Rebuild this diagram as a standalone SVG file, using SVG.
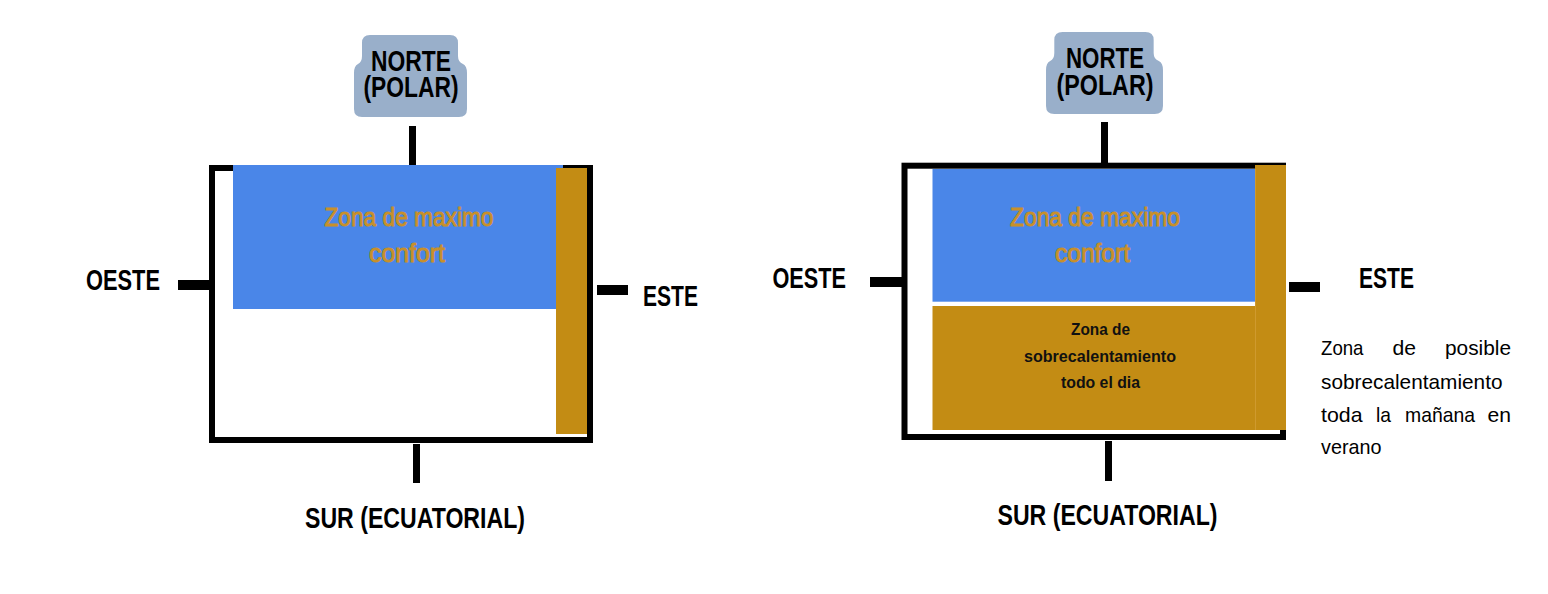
<svg xmlns="http://www.w3.org/2000/svg" width="1548" height="594" viewBox="0 0 1548 594">
<style>
.frame{fill:none;stroke:#000;stroke-width:6}
.blue{fill:#4a86e8}
.gold{fill:#c38c14}
.pol{fill:#99afca}
.tick{fill:#000}
.lbl{font-family:"Liberation Sans",Arial,sans-serif;font-weight:bold;font-size:29px;fill:#000}
.zt{font-family:"Liberation Sans",Arial,sans-serif;font-size:26px;fill:#c8902a;text-anchor:middle;stroke:#c8902a;stroke-width:1}
.zb{font-family:"Liberation Sans",Arial,sans-serif;font-weight:bold;font-size:17px;fill:#111;text-anchor:middle}
.note{font-family:"Liberation Sans",Arial,sans-serif;font-size:21px;fill:#000}
</style>
<defs>
<path id="polbox" d="M 370 35 H 450 Q 458 35 458 43 V 56 Q 458 62 463 64 Q 467 66 467 73 V 109 Q 467 117 459 117 H 362 Q 354 117 354 109 V 73 Q 354 66 358 64 Q 362 62 362 56 V 43 Q 362 35 370 35 Z"/>
</defs>
<rect width="1548" height="594" fill="#fff"/>

<!-- LEFT DIAGRAM -->
<g id="left-plan">
<rect class="frame" x="212" y="168" width="378" height="272"/>
<rect class="blue" x="233" y="165" width="330" height="144"/>
<rect class="gold" x="556" y="168" width="31" height="266"/>
<text class="zt"><tspan x="409" y="226" textLength="169" lengthAdjust="spacingAndGlyphs">Zona de maximo</tspan><tspan x="407" y="262" textLength="76" lengthAdjust="spacingAndGlyphs">confort</tspan></text>
</g>
<g id="left-norte">
<use href="#polbox" class="pol"/>
<text class="lbl" text-anchor="middle"><tspan x="411" y="71" textLength="80" lengthAdjust="spacingAndGlyphs">NORTE</tspan><tspan x="411" y="97" textLength="95" lengthAdjust="spacingAndGlyphs">(POLAR)</tspan></text>
</g>
<g id="left-oeste"><text class="lbl" x="86" y="290" textLength="74" lengthAdjust="spacingAndGlyphs">OESTE</text></g>
<g id="left-este"><text class="lbl" x="643" y="306" textLength="55" lengthAdjust="spacingAndGlyphs">ESTE</text></g>
<g id="left-sur"><text class="lbl" x="305" y="528" textLength="220" lengthAdjust="spacingAndGlyphs">SUR (ECUATORIAL)</text></g>

<!-- RIGHT DIAGRAM -->
<g id="right-plan">
<rect class="frame" x="904.5" y="165.7" width="378.5" height="271.3"/>
<rect class="blue" x="932.5" y="169" width="322.5" height="132.7"/>
<rect class="gold" x="932.5" y="306" width="322.5" height="124"/>
<rect class="gold" x="1255" y="165" width="31" height="265"/>
<line x1="1255.5" y1="169" x2="1255.5" y2="430" stroke="#cf9a2e" stroke-width="1"/>
<text class="zt"><tspan x="1095" y="226" textLength="170" lengthAdjust="spacingAndGlyphs">Zona de maximo</tspan><tspan x="1092.5" y="262" textLength="75" lengthAdjust="spacingAndGlyphs">confort</tspan></text>
<text class="zb"><tspan x="1100.5" y="335" textLength="59" lengthAdjust="spacingAndGlyphs">Zona de</tspan><tspan x="1100" y="361.5" textLength="152" lengthAdjust="spacingAndGlyphs">sobrecalentamiento</tspan><tspan x="1100.5" y="387.5" textLength="79" lengthAdjust="spacingAndGlyphs">todo el dia</tspan></text>
</g>
<g id="right-norte">
<use href="#polbox" class="pol" transform="translate(1104.5 73) scale(1.035 1) translate(-410.5 -76)"/>
<text class="lbl" text-anchor="middle"><tspan x="1105" y="68" textLength="78" lengthAdjust="spacingAndGlyphs">NORTE</tspan><tspan x="1105" y="94.5" textLength="97" lengthAdjust="spacingAndGlyphs">(POLAR)</tspan></text>
</g>
<g id="right-oeste"><text class="lbl" x="772.5" y="288" textLength="73.5" lengthAdjust="spacingAndGlyphs">OESTE</text></g>
<g id="right-este"><text class="lbl" x="1359" y="288" textLength="55" lengthAdjust="spacingAndGlyphs">ESTE</text></g>
<g id="right-sur"><text class="lbl" x="997.5" y="525" textLength="220" lengthAdjust="spacingAndGlyphs">SUR (ECUATORIAL)</text></g>
<g id="right-note">
<text class="note">
<tspan x="1321" y="355" textLength="42.5" lengthAdjust="spacingAndGlyphs">Zona</tspan><tspan x="1392.5" y="355" textLength="23.5" lengthAdjust="spacingAndGlyphs">de</tspan><tspan x="1445" y="355" textLength="66" lengthAdjust="spacingAndGlyphs">posible</tspan>
<tspan x="1321" y="388.5" textLength="181.5" lengthAdjust="spacingAndGlyphs">sobrecalentamiento</tspan>
<tspan x="1321" y="421.5" textLength="41.5" lengthAdjust="spacingAndGlyphs">toda</tspan><tspan x="1376" y="421.5" textLength="15" lengthAdjust="spacingAndGlyphs">la</tspan><tspan x="1405" y="421.5" textLength="70" lengthAdjust="spacingAndGlyphs">mañana</tspan><tspan x="1487.5" y="421.5" textLength="23.5" lengthAdjust="spacingAndGlyphs">en</tspan>
<tspan x="1321" y="453.5" textLength="60.5" lengthAdjust="spacingAndGlyphs">verano</tspan>
</text>
</g>

<!-- CONNECTORS (compass ticks) -->
<g id="connectors">
<rect class="tick" x="409" y="126" width="7" height="39"/>
<rect class="tick" x="178" y="280" width="31" height="10"/>
<rect class="tick" x="597" y="285" width="31" height="10"/>
<rect class="tick" x="413" y="444" width="7" height="39"/>
<rect class="tick" x="1101" y="122" width="7" height="41"/>
<rect class="tick" x="870" y="277" width="32" height="10"/>
<rect class="tick" x="1289" y="282" width="31" height="10"/>
<rect class="tick" x="1105" y="441" width="7" height="40"/>
</g>
</svg>
